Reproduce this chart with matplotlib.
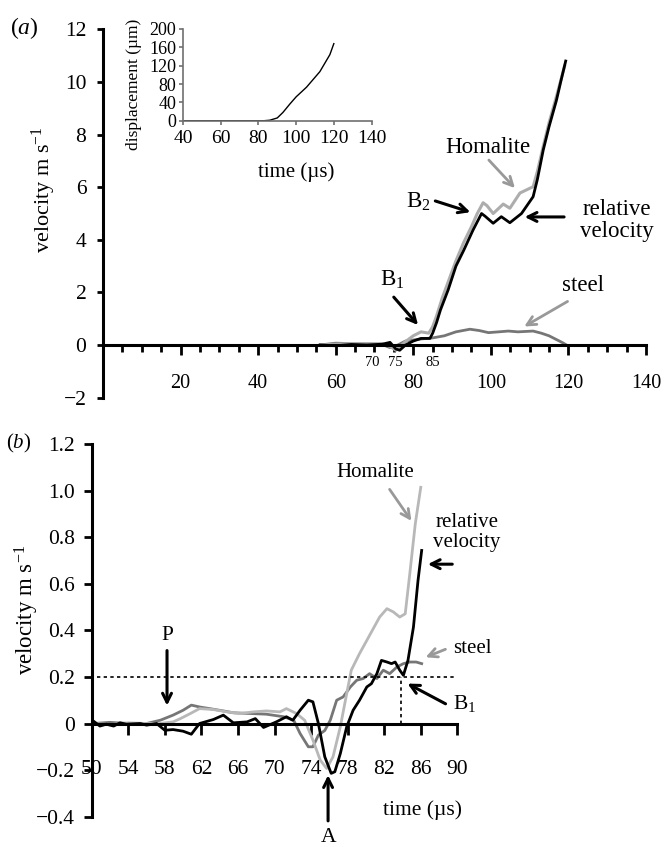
import matplotlib
matplotlib.use("Agg")
import matplotlib.pyplot as plt
from matplotlib.ticker import MultipleLocator

plt.rcParams['font.family'] = ['Liberation Serif', 'DejaVu Serif']
plt.rcParams['mathtext.fontset'] = 'custom'
plt.rcParams['mathtext.rm'] = 'Liberation Serif'
plt.rcParams['mathtext.it'] = 'Liberation Serif:italic'

# --- dados do painel (a) ---
t_rel_a = [56, 60, 64, 68, 72, 74, 75.5, 76.5, 78, 80, 82, 84.3, 85, 86, 87, 89, 91, 93, 95.4,
           97.6, 98.5, 100.6, 102.7, 104.9, 107.9, 110.9, 112, 113.5, 115, 116.9, 118, 119.3]
v_rel_a = [0, -0.03, 0.02, 0, 0.03, 0.1, -0.15, -0.2, 0, 0.15, 0.25, 0.25, 0.45, 0.85, 1.33, 2.1,
           3.0, 3.6, 4.37, 5.0, 4.9, 4.63, 4.88, 4.65, 5.0, 5.64, 6.3, 7.41, 8.3, 9.3, 10.0, 10.8]

t_hom_a = [56, 60, 64, 68, 72, 74, 75.5, 77, 78, 80, 82, 84, 85, 86, 87.5, 89, 91, 93, 95, 96.5,
           98, 99, 100.6, 103.2, 104.9, 107.5, 110.9, 112, 113.5, 115, 117, 119]
v_hom_a = [0, 0.03, 0.05, 0.05, 0.05, -0.05, -0.2, 0, 0.13, 0.35, 0.5, 0.45, 0.7, 1.1, 1.8, 2.4,
           3.2, 3.9, 4.5, 5.0, 5.41, 5.3, 5.0, 5.36, 5.2, 5.78, 6.02, 6.6, 7.55, 8.45, 9.5, 10.6]

t_steel_a = [56, 60, 64, 68, 72, 74, 76, 78, 82, 85, 88, 91, 94.6, 97, 99.4, 102, 104.5, 107,
             110.9, 113, 115, 117, 118.6, 119.5]
v_steel_a = [0, 0.07, 0.05, 0.04, 0.02, -0.1, 0, 0.15, 0.23, 0.27, 0.35, 0.5, 0.6, 0.55, 0.47,
             0.5, 0.53, 0.5, 0.53, 0.45, 0.35, 0.2, 0.08, 0]

# inset: deslocamento
t_disp = [40, 60, 80, 83, 86, 90, 93, 96.6, 100, 105.5, 112.6, 117.9, 120]
d_disp = [0, 0, 0, 0, 1, 6, 18, 36, 52, 73, 107, 144, 168]

# --- dados do painel (b) ---
t_rel_b = [50.2, 50.9, 51.6, 52.4, 53.1, 53.8, 55.3, 56.0, 57.1, 58.0, 58.9, 60.0, 60.9, 61.8,
           63.3, 64.4, 65.5, 67.0, 67.9, 68.8, 70.2, 71.3, 72.0, 72.8, 73.7, 74.2, 74.8, 75.5,
           76.2, 76.6, 77.2, 77.9, 78.6, 79.3, 80.1, 80.6, 81.2, 81.7, 82.3, 82.8, 83.2, 83.7,
           84.1, 84.6, 85.2, 85.7, 86.1]
v_rel_b = [0.01, -0.011, -0.003, -0.011, 0.003, -0.003, 0, -0.007, 0, -0.029, -0.026, -0.033,
           -0.046, 0, 0.017, 0.036, 0.003, 0.007, 0.021, -0.017, 0.007, 0.029, 0.014, 0.057, 0.1,
           0.093, 0, -0.143, -0.214, -0.207, -0.129, -0.014, 0.057, 0.1, 0.157, 0.171, 0.214,
           0.271, 0.264, 0.257, 0.264, 0.229, 0.207, 0.271, 0.414, 0.614, 0.743]

t_hom_b = [50.2, 52, 54, 56, 57.5, 58.9, 59.7, 60.8, 61.8, 63.3, 64.8, 66.2, 67.7, 69.1, 70.6,
           71.3, 72.4, 73.3, 74.2, 75.0, 75.7, 76.4, 77.2, 77.9, 78.4, 79.3, 80.1, 80.8, 81.5,
           82.3, 83.0, 83.7, 84.3, 84.8, 85.4, 86.0]
v_hom_b = [0, -0.005, 0.003, 0, 0, 0.007, 0.021, 0.043, 0.064, 0.06, 0.05, 0.043, 0.05, 0.054,
           0.05, 0.064, 0.043, 0.014, -0.071, -0.157, -0.193, -0.143, -0.014, 0.129, 0.229, 0.3,
           0.357, 0.407, 0.457, 0.493, 0.479, 0.457, 0.471, 0.643, 0.857, 1.014]

t_steel_b = [50.2, 52, 54, 56, 57.5, 58.9, 60.0, 60.9, 61.8, 62.9, 64.4, 65.5, 67.3, 69.1, 71.0,
             72.1, 72.8, 73.7, 74.2, 74.8, 75.5, 76.1, 76.8, 77.5, 78.3, 79.0, 79.7, 80.4, 81.2,
             81.9, 82.6, 83.4, 84.1, 84.8, 85.5, 86.1]
v_steel_b = [0, 0.005, 0, 0, 0.014, 0.036, 0.057, 0.079, 0.071, 0.064, 0.054, 0.046, 0.043, 0.04,
             0.029, 0.014, -0.043, -0.1, -0.1, -0.05, -0.03, 0.014, 0.1, 0.114, 0.157, 0.186,
             0.193, 0.214, 0.193, 0.229, 0.214, 0.243, 0.257, 0.264, 0.264, 0.257]

LIMIAR_B1 = 0.2     # linha pontilhada horizontal
T_B1 = 83.8         # instante B1

COR_HOM = '#adadad'
COR_STEEL = '#767676'
COR_SETA_CINZA = '#999999'

fig = plt.figure(figsize=(6.65, 8.47), dpi=100)

# ---------------- painel (a) ----------------
ax = fig.add_axes([0.1549, 0.5306, 0.8165, 0.4346])
ax.plot(t_steel_a, v_steel_a, color=COR_STEEL, lw=2.0)
ax.plot(t_hom_a, v_hom_a, color=COR_HOM, lw=2.2)
ax.plot(t_rel_a, v_rel_a, color='black', lw=2.0)
ax.set_xlim(0, 140)
ax.set_ylim(-2, 12)
for s in ['top', 'right']:
    ax.spines[s].set_visible(False)
ax.spines['bottom'].set_position(('data', 0))
ax.spines['left'].set_linewidth(2.2)
ax.spines['bottom'].set_linewidth(2.2)
ax.set_xticks(range(20, 141, 20))
ax.xaxis.set_minor_locator(MultipleLocator(5))
ax.set_yticks(range(-2, 13, 2))
ax.set_yticklabels(['\u22122'] + [str(v) for v in range(0, 13, 2)])
ax.tick_params(axis='x', which='major', direction='out', length=7, width=2, labelsize=14.5, pad=14)
ax.tick_params(axis='x', which='minor', direction='out', length=5, width=2)
ax.tick_params(axis='y', direction='out', length=4, width=2, labelsize=15.5, pad=8)
ax.set_ylabel('velocity m s$^{-1}$', fontsize=16)
ax.yaxis.set_label_coords(-0.082, 0.565)

for lab, x in [('70', 69.5), ('75', 75.3), ('85', 85)]:
    ax.text(x, -0.65, lab, fontsize=10.5, ha='center', va='center')

seta_preta = dict(arrowstyle='->', color='black', lw=2.2, mutation_scale=16)
seta_cinza = dict(arrowstyle='->', color=COR_SETA_CINZA, lw=2.0, mutation_scale=16)
ax.text(99.2, 7.53, 'Homalite', fontsize=16.5, ha='center', va='center')
ax.annotate('', xy=(106.7, 5.89), xytext=(99.0, 7.11), arrowprops=seta_cinza)
ax.text(81.2, 5.44, 'B$_2$', fontsize=16.5, ha='center', va='center')
ax.annotate('', xy=(95.4, 5.02), xytext=(85.0, 5.51), arrowprops=seta_preta)
ax.text(132.5, 4.75, 'relative\nvelocity', fontsize=16.5, ha='center', va='center',
        linespacing=1.05, clip_on=False)
ax.annotate('', xy=(108, 4.87), xytext=(119.6, 4.87), arrowprops=seta_preta)
ax.text(74.5, 2.47, 'B$_1$', fontsize=16.5, ha='center', va='center')
ax.annotate('', xy=(81.7, 0.68), xytext=(74.5, 1.9), arrowprops=seta_preta)
ax.text(123.7, 2.28, 'steel', fontsize=16.5, ha='center', va='center')
ax.annotate('', xy=(108, 0.65), xytext=(120.4, 1.71), arrowprops=seta_cinza)

fig.text(24 / 665, 1 - 28 / 847, '($\\mathit{a}$)', fontsize=17, ha='center', va='center')

# inset
axi = fig.add_axes([0.2752, 0.8575, 0.2835, 0.1083])
axi.plot(t_disp, d_disp, color='black', lw=1.0)
axi.set_xlim(40, 140)
axi.set_ylim(0, 200)
for s in ['top', 'right']:
    axi.spines[s].set_visible(False)
for s in ['left', 'bottom']:
    axi.spines[s].set_color('#707070')
    axi.spines[s].set_linewidth(1.2)
axi.set_xticks(range(40, 141, 20))
axi.set_yticks(range(0, 201, 40))
axi.tick_params(axis='x', direction='out', length=3, width=1.2, color='#707070', labelsize=14, pad=4)
axi.tick_params(axis='y', direction='out', length=3, width=1.2, color='#707070', labelsize=13, pad=2)
axi.set_xlabel('time (\u00b5s)', fontsize=15)
axi.set_ylabel('displacement (\u00b5m)', fontsize=12.5)
axi.xaxis.set_label_coords(0.6, -0.45)
axi.yaxis.set_label_coords(-0.215, 0.40)
axi.patch.set_alpha(0)

# ---------------- painel (b) ----------------
bx = fig.add_axes([0.1379, 0.0358, 0.5498, 0.4400])
bx.plot(t_steel_b, v_steel_b, color=COR_STEEL, lw=2.0)
bx.plot(t_hom_b, v_hom_b, color='#b8b8b8', lw=2.0)
bx.plot(t_rel_b, v_rel_b, color='black', lw=2.0)
bx.set_xlim(50, 90)
bx.set_ylim(-0.4, 1.2)
for s in ['top', 'right']:
    bx.spines[s].set_visible(False)
bx.spines['bottom'].set_position(('data', 0))
bx.spines['left'].set_linewidth(2.2)
bx.spines['bottom'].set_linewidth(2.2)
bx.set_xticks(range(50, 91, 4))
bx.set_yticks([-0.4, -0.2, 0, 0.2, 0.4, 0.6, 0.8, 1.0, 1.2])
bx.set_yticklabels(['\u22120.4', '\u22120.2', '0', '0.2', '0.4', '0.6', '0.8', '1.0', '1.2'])
bx.tick_params(axis='x', direction='out', length=8, width=2, labelsize=15.5, pad=18)
bx.tick_params(axis='y', direction='out', length=6, width=2, labelsize=15.5, pad=6)
bx.set_ylabel('velocity m s$^{-1}$', fontsize=16.5)
bx.yaxis.set_label_coords(-0.139, 0.555)

bx.plot([50.6, 90], [LIMIAR_B1, LIMIAR_B1], color='black', lw=1.2, ls=(0, (2, 2)))
bx.plot([T_B1, T_B1], [0, LIMIAR_B1], color='black', lw=1.2, ls=(0, (2, 2)))

bx.text(58.24, 0.379, 'P', fontsize=15.5, ha='center', va='center')
bx.annotate('', xy=(58.24, 0.065), xytext=(58.24, 0.325), arrowprops=seta_preta)
bx.text(75.86, -0.49, 'A', fontsize=15.5, ha='center', va='center', clip_on=False)
bx.annotate('', xy=(75.86, -0.21), xytext=(75.86, -0.43), arrowprops=seta_preta,
            annotation_clip=False)
bx.text(81.0, 1.079, 'Homalite', fontsize=15, ha='center', va='center')
bx.annotate('', xy=(85.15, 0.86), xytext=(82.42, 1.015), arrowprops=seta_cinza)
bx.text(91.06, 0.82, 'relative\nvelocity', fontsize=15, ha='center', va='center',
        linespacing=1.1, clip_on=False)
bx.annotate('', xy=(86.47, 0.684), xytext=(89.75, 0.684), arrowprops=seta_preta,
            annotation_clip=False)
bx.text(91.7, 0.323, 'steel', fontsize=15, ha='center', va='center', clip_on=False)
bx.annotate('', xy=(86.25, 0.28), xytext=(88.98, 0.323), arrowprops=seta_cinza,
            annotation_clip=False)
bx.text(90.85, 0.087, 'B$_1$', fontsize=15.5, ha='center', va='center', clip_on=False)
bx.annotate('', xy=(84.28, 0.177), xytext=(88.98, 0.079), arrowprops=seta_preta,
            annotation_clip=False)
bx.text(86.14, -0.371, 'time (\u00b5s)', fontsize=15.5, ha='center', va='center')

fig.text(19 / 665, 1 - 443 / 847, '($\\mathit{b}$)', fontsize=15, ha='center', va='center')

fig.savefig('out.png', dpi=100)
